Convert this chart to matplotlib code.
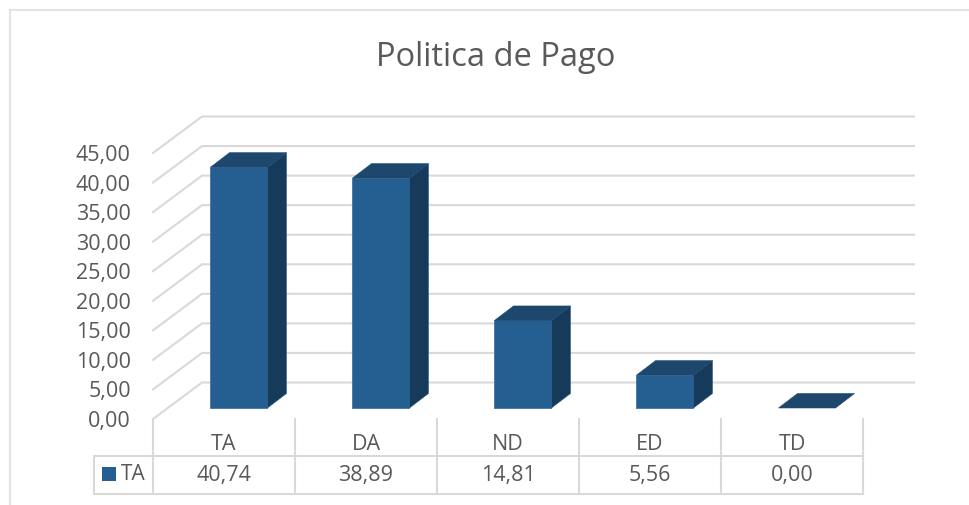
import matplotlib
matplotlib.use('Agg')
import matplotlib.pyplot as plt
from matplotlib.patches import Polygon, Rectangle

plt.rcParams['font.family'] = ['Open Sans', 'DejaVu Sans']

categories = ['TA', 'DA', 'ND', 'ED', 'TD']
values = [40.74, 38.89, 14.81, 5.56, 0.00]
value_labels = ['40,74', '38,89', '14,81', '5,56', '0,00']
series_name = 'TA'
y_ticks = [0, 5, 10, 15, 20, 25, 30, 35, 40, 45]
y_labels = ['0,00', '5,00', '10,00', '15,00', '20,00', '25,00', '30,00', '35,00', '40,00', '45,00']

GRID = '#d9d9d9'
TEXT = '#595959'
FRONT = '#255e91'
TOP = '#1d476d'
SIDE = '#163a5a'

W, H = 970, 505
fig = plt.figure(figsize=(W / 100, H / 100), dpi=100)

# axes sits on the front plane of the fake 3D box
left, right, bottom, top = 153, 863, 419, 153
ax = fig.add_axes([left / W, 1 - bottom / H, (right - left) / W, (bottom - top) / H])
ax.set_xlim(0, 5)
ax.set_ylim(0, 45)
ax.patch.set_visible(False)
for s in ax.spines.values():
    s.set_visible(False)

px_x = 5 / (right - left)
px_y = 45 / (bottom - top)

# depth of the floor/wall and of the bars, in data units
wall_dx, wall_dy = 49 * px_x, 36.5 * px_y
bar_dx, bar_dy = 15 * px_x, 11 * px_y
depth_dx, depth_dy = 19 * px_x, 14.5 * px_y
bar_w = 57 * px_x

# wall grid
wall_end = (914 - left) * px_x
for t in y_ticks:
    ax.plot([0, wall_dx, wall_end], [t, t + wall_dy, t + wall_dy], color=GRID, lw=1.5,
            clip_on=False, zorder=1, solid_joinstyle='miter')

# bars
for i, v in enumerate(values):
    x0 = i + 0.5 - bar_w / 2 + bar_dx
    x1 = x0 + bar_w
    y0 = bar_dy
    y1 = bar_dy + v
    if v > 0:
        ax.bar(x0, v, bar_w, bottom=y0, align='edge', color=FRONT, edgecolor='#3f75a6', lw=0.6,
               zorder=3, clip_on=False)
        ax.add_patch(Polygon([(x1, y0), (x1 + depth_dx, y0 + depth_dy), (x1 + depth_dx, y1 + depth_dy), (x1, y1)],
                             facecolor=SIDE, edgecolor='#2c5c88', lw=0.4, zorder=3, clip_on=False))
    ax.add_patch(Polygon([(x0, y1), (x1, y1), (x1 + depth_dx, y1 + depth_dy), (x0 + depth_dx, y1 + depth_dy)],
                         facecolor=TOP, edgecolor=TOP, lw=0.4, zorder=3, clip_on=False))

# y labels
ax.set_xticks([])
ax.set_yticks(y_ticks)
ax.set_yticklabels(y_labels, fontsize=15.5, color=TEXT)
ax.tick_params(axis='y', length=0, pad=16)

# data table under the axis
row1 = -(456 - bottom) * px_y
row2 = -(494 - bottom) * px_y
legend_left = (94 - left) * px_x
for i in range(len(categories) + 1):
    ax.plot([i, i], [0, row2], color=GRID, lw=1.5, clip_on=False, zorder=1)
ax.plot([legend_left, legend_left], [row1, row2], color=GRID, lw=1.5, clip_on=False)
ax.plot([legend_left, 5], [row1, row1], color=GRID, lw=1.5, clip_on=False)
ax.plot([legend_left, 5], [row2, row2], color=GRID, lw=1.5, clip_on=False)

y_cat = -(444 - bottom) * px_y
y_val = -(475 - bottom) * px_y
for i, (c, lab) in enumerate(zip(categories, value_labels)):
    ax.text(i + 0.5, y_cat, c, ha='center', va='center', fontsize=15.5, color=TEXT, clip_on=False)
    ax.text(i + 0.5, y_val, lab, ha='center', va='center', fontsize=15.5, color=TEXT, clip_on=False)

ax.add_patch(Rectangle(((102 - left) * px_x, -(481 - bottom) * px_y), 14 * px_x, 14 * px_y,
                       facecolor=FRONT, edgecolor='none', clip_on=False))
ax.text((121 - left) * px_x, y_val, series_name, ha='left', va='center', fontsize=15, color=TEXT, clip_on=False)

# chart frame and title (no right edge in the screenshot)
fig.add_artist(plt.Line2D([10 / W, 10 / W], [0, 1 - 10 / H], color='#e3e3e3', lw=1.5))
fig.add_artist(plt.Line2D([10 / W, 1], [1 - 10 / H, 1 - 10 / H], color='#e3e3e3', lw=1.5))
fig.text(496 / W, 1 - 57 / H, 'Politica de Pago', ha='center', va='center', fontsize=23.5, color=TEXT)

fig.savefig('out.png', dpi=100)
